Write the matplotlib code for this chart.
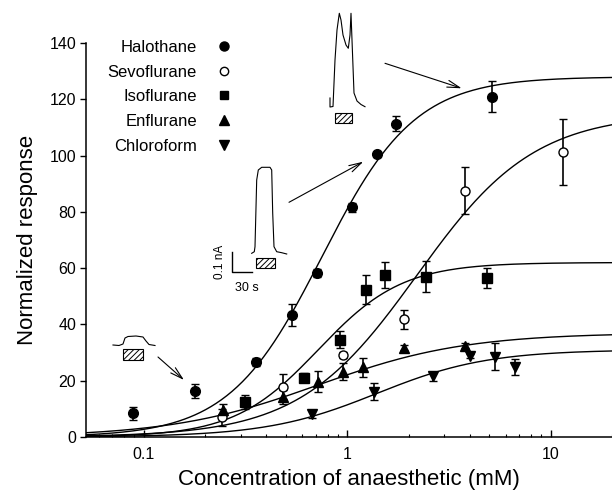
import numpy as np
import matplotlib
matplotlib.use('Agg')
import matplotlib.pyplot as plt
from matplotlib.lines import Line2D
from matplotlib.patches import Rectangle

plt.rcParams['font.family'] = ['Liberation Sans', 'DejaVu Sans']
plt.rcParams['hatch.linewidth'] = 0.7

# concentration (mM), normalized response, error
halo_x = [0.089, 0.179, 0.355, 0.534, 0.71, 1.05, 1.40, 1.74, 5.12]
halo_y = [8.4, 16.4, 26.7, 43.4, 58.2, 81.6, 100.4, 111.3, 120.9]
halo_err = [2.4, 2.6, 1.5, 3.9, 1.5, 1.5, 1.0, 2.6, 5.5]

sevo_x = [0.241, 0.482, 0.953, 1.89, 3.77, 11.55]
sevo_y = [7.0, 17.9, 29.1, 41.9, 87.5, 101.3]
sevo_err = [3.0, 4.4, 1.0, 3.4, 8.4, 11.6]

iso_x = [0.315, 0.614, 0.924, 1.23, 1.54, 2.45, 4.88]
iso_y = [12.6, 21.1, 34.5, 52.3, 57.7, 57.0, 56.5]
iso_err = [2.5, 1.5, 3.0, 5.2, 4.6, 5.6, 3.5]

enf_x = [0.244, 0.482, 0.722, 0.953, 1.195, 1.89, 3.81]
enf_y = [9.6, 14.3, 19.7, 23.2, 24.8, 31.8, 32.5]
enf_err = [2.2, 2.5, 3.6, 3.1, 3.4, 0.8, 0.8]

chl_x = [0.67, 1.35, 2.64, 4.0, 5.3, 6.65]
chl_y = [8.2, 16.1, 21.5, 28.8, 28.6, 24.8]
chl_err = [1.5, 3.0, 1.5, 0.8, 4.7, 2.9]

# Hill fit parameters: max, EC50 (mM), Hill coefficient
names = ['Halothane', 'Sevoflurane', 'Isoflurane', 'Enflurane', 'Chloroform']
hill_max = [128, 115, 62, 37, 31]
hill_ec50 = [0.75, 2.2, 0.72, 0.72, 1.4]
hill_n = [1.9, 1.5, 2.1, 1.2, 1.6]

xs = [halo_x, sevo_x, iso_x, enf_x, chl_x]
ys = [halo_y, sevo_y, iso_y, enf_y, chl_y]
errs = [halo_err, sevo_err, iso_err, enf_err, chl_err]
markers = ['o', 'o', 's', '^', 'v']
faces = ['black', 'white', 'black', 'black', 'black']
msizes = [7, 6.5, 6.5, 7, 7]


def hill(c, top, k, n):
    return top * c**n / (c**n + k**n)


fig = plt.figure(figsize=(6.12, 4.93), dpi=100)
ax = fig.add_axes([86/612, 56/493, 526/612, 394/493])

cc = np.logspace(np.log10(0.052), np.log10(20), 300)
for i in range(5):
    ax.plot(cc, hill(cc, hill_max[i], hill_ec50[i], hill_n[i]), color='black', lw=1.0, zorder=2)
    ax.errorbar(xs[i], ys[i], yerr=errs[i], fmt=markers[i], color='black', mfc=faces[i],
                mec='black', ms=msizes[i], mew=1.0, elinewidth=1.2, capsize=2.8, capthick=1.0,
                zorder=3, clip_on=False)

ax.set_xscale('log')
ax.set_xlim(0.052, 20)
ax.set_ylim(0, 140)
ax.set_yticks(range(0, 141, 20))
ax.set_xticks([0.1, 1, 10])
ax.set_xticklabels(['0.1', '1', '10'])
for s in ['top', 'right']:
    ax.spines[s].set_visible(False)
for s in ['left', 'bottom']:
    ax.spines[s].set_linewidth(1.1)
ax.tick_params(axis='y', direction='out', length=4, width=1.0, pad=3, labelsize=11.5)
ax.tick_params(axis='x', which='major', direction='in', length=5, width=1.0, pad=7, labelsize=11.5)
ax.tick_params(axis='x', which='minor', direction='in', length=2.5, width=0.8)
ax.set_xlabel('Concentration of anaesthetic (mM)', fontsize=16, labelpad=5)
ax.set_ylabel('Normalized response', fontsize=16, labelpad=8)

handles = [Line2D([], [], ls='none', marker=markers[i], mfc=faces[i], mec='black',
                  color='black', ms=msizes[i] - 0.5, mew=1.0) for i in range(5)]
ax.legend(handles, names, loc='upper right', bbox_to_anchor=(232/612, 1 - 40/493),
          bbox_transform=fig.transFigure, frameon=False, markerfirst=False, fontsize=12,
          handlelength=1.0, handletextpad=1.1, labelspacing=0.58, borderpad=0, borderaxespad=0)

# overlay for the current traces, scale bar and arrows (pixel coordinates)
ov = fig.add_axes([0, 0, 1, 1], zorder=5)
ov.set_xlim(0, 612)
ov.set_ylim(493, 0)
ov.axis('off')
ov.patch.set_alpha(0)

small_tr = [(113, 345), (119, 345.5), (123, 344), (125, 338), (128, 336.5), (136, 336), (143, 337),
            (146, 341), (149, 344.5), (155, 345.5)]
mid_tr = [(251.7, 253.3), (254.3, 251.7), (255, 246.7), (256.7, 180), (258.3, 170), (261.7, 167.3),
          (270, 167.3), (271.7, 170), (272.7, 213), (274, 246.7), (276.7, 251.7), (281.7, 252.7),
          (286.7, 254)]
big_tr = [(330, 98), (330, 107), (333, 106.5), (335, 60), (337, 30), (339.3, 13.3), (341, 20),
          (343, 35), (346, 45), (348.3, 48.3), (350, 35), (351, 13.3), (352, 40), (354, 93),
          (357, 101), (361, 104.5), (365, 106.7)]
for tr in [small_tr, mid_tr, big_tr]:
    ov.plot([p[0] for p in tr], [p[1] for p in tr], color='black', lw=0.8)

for (x0, y0, w, h) in [(123, 349, 20, 11), (256, 257.5, 18.5, 10), (335, 112.5, 16.5, 10)]:
    ov.add_patch(Rectangle((x0, y0), w, h, facecolor='white', edgecolor='black', lw=0.8,
                           hatch='//////'))

ov.plot([231.7, 231.7, 252.3], [251.7, 271.7, 271.7], color='black', lw=1.0)
ov.text(220, 262, '0.1 nA', rotation=90, ha='center', va='center', fontsize=8.5)
ov.text(247, 288, '30 s', ha='center', va='center', fontsize=9)

for (a, b) in [((158, 357), (184, 380)), ((289, 202.3), (363.3, 161.7)), ((385, 63.3), (461.7, 88.3))]:
    ov.annotate('', xy=b, xytext=a,
                arrowprops=dict(arrowstyle='->,head_length=0.9,head_width=0.25', lw=0.8,
                                color='black', shrinkA=0, shrinkB=0))

fig.savefig('out.png', dpi=100)
